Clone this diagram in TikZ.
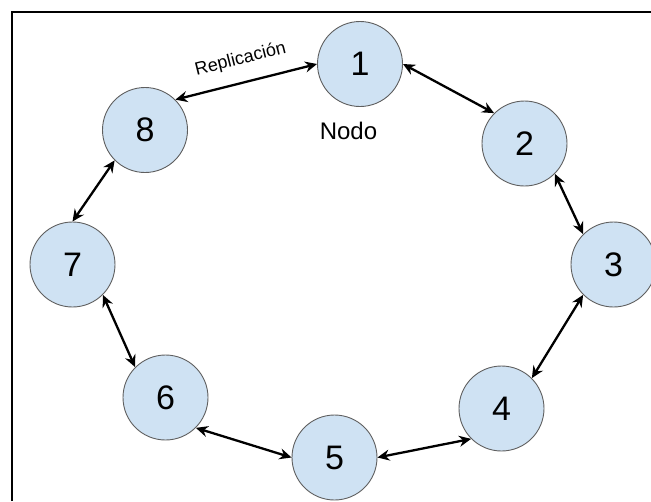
\documentclass[tikz,border=0pt]{standalone}
\usepackage{fontspec}
\setmainfont{Liberation Sans}
\usepackage{tikz}
\usetikzlibrary{arrows.meta}
\usetikzlibrary{positioning}

\definecolor{nodofill}{HTML}{CFE2F3}
\definecolor{nodoline}{HTML}{5F5F5F}

\tikzset{
  nodo/.style={circle, draw=nodoline, fill=nodofill, line width=0.9pt,
    minimum size=85pt, inner sep=0pt, font=\fontsize{34}{34}\selectfont},
  enlace/.style={draw=black, line width=2.3pt,
    {Stealth[length=12pt,width=11pt,inset=4pt]}-{Stealth[length=12pt,width=11pt,inset=4pt]}},
}

\begin{document}
\begin{tikzpicture}[x=1pt,y=-1pt]

\useasboundingbox (0,0) rectangle (651,501);
\draw[line width=2.6pt] (12,501) -- (12,12) -- (651,12);

\node[nodo] (n1) at (360,64) {1};
\node[nodo] (n2) at (524.5,143.5) {2};
\node[nodo] (n3) at (613.5,264.5) {3};
\node[nodo] (n4) at (501.5,408.5) {4};
\node[nodo] (n5) at (334.5,457.5) {5};
\node[nodo] (n6) at (165.5,397.5) {6};
\node[nodo] (n7) at (72.5,264.5) {7};
\node[nodo] (n8) at (145,130) {8};

\node[anchor=base, font=\fontsize{24}{24}\selectfont] (etiqueta) at (348.5,139) {Nodo};

\draw[enlace] (n1.180) -- node[above, sloped, yshift=10pt, font=\fontsize{18}{18}\selectfont] (replica) {Replicación} (n8.45);
\draw[enlace] (n1.0) -- (n2.135);
\draw[enlace] (n2.-45) -- (n3.135);
\draw[enlace] (n3.225) -- (n4.45);
\draw[enlace] (n4.225) -- (n5.0);
\draw[enlace] (n5.180) -- (n6.-45);
\draw[enlace] (n6.135) -- (n7.-45);
\draw[enlace] (n7.90) -- (n8.225);

\end{tikzpicture}
\end{document}
